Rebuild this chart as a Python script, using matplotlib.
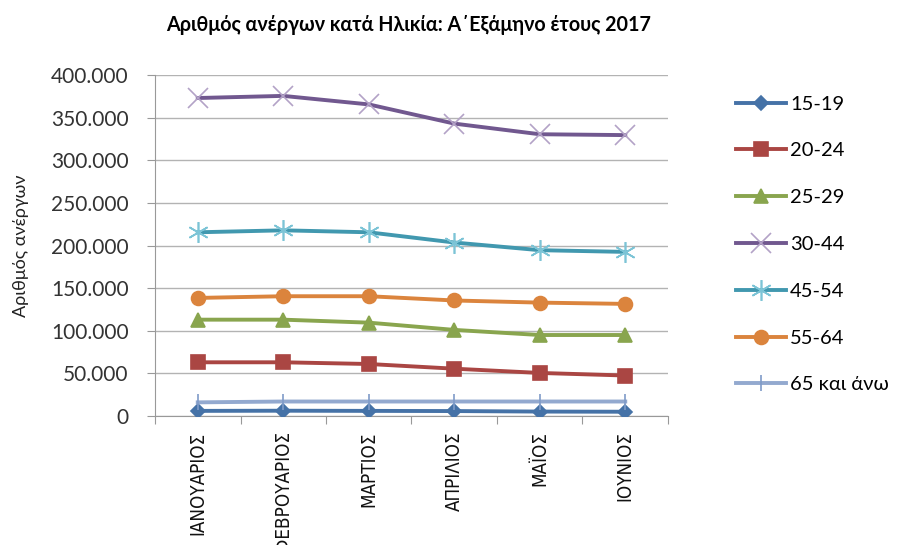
import matplotlib
matplotlib.use("Agg")
import matplotlib.pyplot as plt
from matplotlib.ticker import FuncFormatter

# Δεδομένα (εκτίμηση από το γράφημα)
mines = ['ΙΑΝΟΥΑΡΙΟΣ', 'ΦΕΒΡΟΥΑΡΙΟΣ', 'ΜΑΡΤΙΟΣ', 'ΑΠΡΙΛΙΟΣ', 'ΜΑΪΟΣ', 'ΙΟΥΝΙΟΣ']
ilikies = ['15-19', '20-24', '25-29', '30-44', '45-54', '55-64', '65 και άνω']
v_15_19 = [6000, 6200, 6000, 5800, 5200, 5000]
v_20_24 = [63000, 63000, 61000, 55500, 50500, 47500]
v_25_29 = [113000, 113000, 109500, 101000, 95000, 95000]
v_30_44 = [373000, 375500, 365500, 343000, 330500, 329500]
v_45_54 = [215500, 217800, 215500, 203500, 194500, 192500]
v_55_64 = [138500, 140500, 140500, 135500, 133000, 131500]
v_65 = [16000, 17000, 17000, 17000, 17000, 17000]

seires = [v_15_19, v_20_24, v_25_29, v_30_44, v_45_54, v_55_64, v_65]

# Στυλ (χρώμα γραμμής, σημάδι, χρώμα σημαδιού, μέγεθος)
styl = [
    ('#4572A7', 'D', '#4572A7', 7),
    ('#AA4643', 's', '#AA4643', 10),
    ('#89A54E', '^', '#89A54E', 10),
    ('#71588F', 'x', '#B3A2C7', 14),
    ('#4198AF', (6, 2, 0), '#7CC4D6', 15),
    ('#DB843D', 'o', '#DB843D', 10),
    ('#93A9CF', '|', '#7F9BC8', 12),
]

plt.rcParams['font.family'] = ['Lato', 'DejaVu Sans']

fig = plt.figure(figsize=(8.98, 5.45), dpi=100)
ax = fig.add_axes([155 / 898, 1 - 416 / 545, (668 - 155) / 898, (416 - 75) / 545])

x = list(range(len(mines)))
for lab, vals, (c, m, mc, ms) in zip(ilikies, seires, styl):
    ax.plot(x, vals, color=c, lw=2.8, marker=m, markersize=ms,
            markerfacecolor=mc, markeredgecolor=mc, markeredgewidth=1.2,
            label=lab, zorder=3)

ax.set_xlim(-0.5, len(mines) - 0.5)
ax.set_ylim(0, 400000)
ax.set_yticks(range(0, 400001, 50000))
ax.yaxis.set_major_formatter(FuncFormatter(lambda v, p: f'{int(v):,}'.replace(',', '.')))
ax.grid(axis='y', color='#B3B3B3', lw=1)
ax.set_axisbelow(True)

ax.set_xticks([i - 0.5 for i in range(len(mines) + 1)])
ax.set_xticklabels([])
ax.set_xticks(x, minor=True)
ax.set_xticklabels(mines, minor=True, rotation=90, fontsize=13.5,
                   family='DejaVu Sans', fontstretch='condensed', color='#111111')
ax.tick_params(axis='x', which='minor', length=0, pad=11)
ax.tick_params(axis='x', which='major', length=6, color='#999999', direction='out')
ax.tick_params(axis='y', length=6, color='#999999', labelsize=15, pad=13,
               labelcolor='#333333')

for s in ['top', 'right']:
    ax.spines[s].set_visible(False)
for s in ['left', 'bottom']:
    ax.spines[s].set_color('#999999')

ax.set_ylabel('Αριθμός ανέργων', fontsize=13, color='#222222')
ax.yaxis.set_label_coords(-0.245, 0.5)

fig.text(0.455, 0.954, 'Αριθμός ανέργων κατά Ηλικία: Α΄Εξάμηνο έτους 2017',
         ha='center', va='center', fontsize=14.2, fontweight='bold')

fig.legend(loc='upper left', bbox_to_anchor=(0.799, 0.858), frameon=False,
           fontsize=14.5, labelspacing=1.475, handlelength=2.5, handletextpad=0.2)

fig.savefig('out.png', dpi=100)
